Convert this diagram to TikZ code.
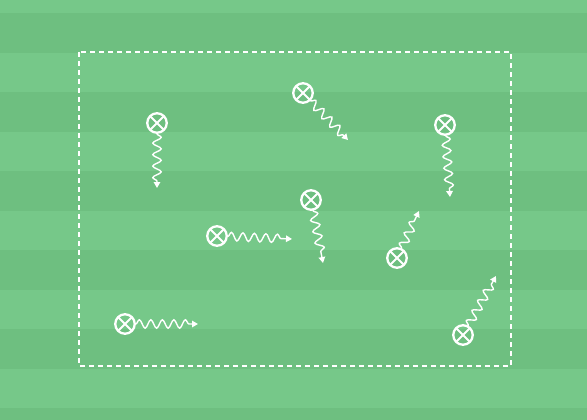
\documentclass[tikz,border=0pt]{standalone}
\usetikzlibrary{decorations.pathmorphing,arrows.meta}
\definecolor{lightg}{RGB}{118,200,137}
\definecolor{darkg}{RGB}{110,191,128}
\begin{document}
\begin{tikzpicture}[x=1pt,y=-1pt,
  player/.style={circle,draw=white,line width=2.3pt,minimum size=19.5pt,inner sep=0pt,outer sep=0pt},
  crossline/.style={white,line width=1.8pt},
  wave/.style={draw=white,line width=1.4pt,decorate,
    decoration={snake,amplitude=4.2pt,segment length=11.5pt,pre length=1pt,post length=6pt},
    -{Triangle[width=6.5pt,length=6pt]}},
  zone/.style={white,line width=1.4pt,dash pattern=on 5pt off 4pt}]
\useasboundingbox (0,0) rectangle (587,420);
\clip (0,0) rectangle (587,420);
\fill[lightg] (0,0) rectangle (587,420);
\foreach \y in {13,92,171,250,329,408}
  \fill[darkg] (0,\y) rectangle (587,\y+40);
\draw[zone] (79,52) rectangle (511,366);
\foreach \n/\px/\py/\tx/\ty in {1/157/123/157/188, 2/303/93/348/140, 3/445/125/450/197,
  4/311/200/323/263, 5/217/236/292/239, 6/397/258/419/211, 7/125/324/198/324, 8/463/335/496/276}{
  \node[player] (p\n) at (\px,\py) {};
  \draw[crossline] (p\n.45) -- (p\n.225) (p\n.135) -- (p\n.315);
  \coordinate (t\n) at (\tx,\ty);
  \draw[wave] (p\n) -- (t\n);
}
\end{tikzpicture}
\end{document}
